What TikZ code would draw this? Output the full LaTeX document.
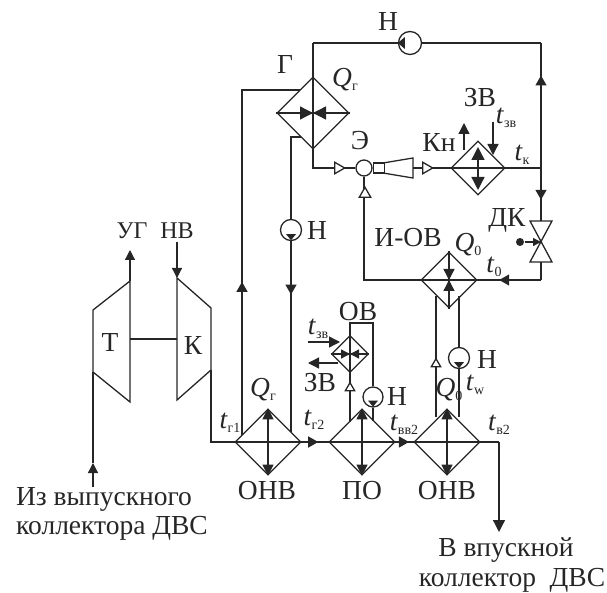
\documentclass[tikz,border=0pt]{standalone}
\usepackage{fontspec}
\setmainfont{Liberation Serif}
\usetikzlibrary{arrows.meta, shapes.geometric, decorations.markings, positioning}
\newcommand{\lbl}[2]{\textit{#1}\raisebox{-4pt}{\fontsize{14}{14}\selectfont #2}}
\tikzset{
	hx/.style={diamond, draw, aspect=1, inner sep=0pt, minimum size=#1},
	pump/.style={circle, draw, inner sep=0pt, minimum size=#1},
	txt/.style={inner sep=0pt, font=\fontsize{27.5}{31}\selectfont, align=center},
	arr/.style={-{Triangle[length=#1,width=#1]}},
	midfill/.style={decoration={markings, mark=at position #1 with {\arrow{Triangle[length=10pt,width=11pt]}}}, postaction={decorate}},
	openup/.style={isosceles triangle, draw, fill=white, isosceles triangle apex angle=60, shape border rotate=90, inner sep=0pt, minimum size=#1},
	openright/.style={isosceles triangle, draw, fill=white, isosceles triangle apex angle=60, inner sep=0pt, minimum size=#1}
}
\begin{document}
\begin{tikzpicture}[x=1pt, y=-1pt, line width=1.3pt, color=black!85]
	\useasboundingbox (0,0) rectangle (607,593);

	% exchangers
	\node [hx=72pt] (gen) at (313,113) {};
	\node [hx=54pt] (kn) at (478,168) {};
	\node [hx=56pt] (iov) at (449,280) {};
	\node [hx=37pt] (ov) at (350,354) {};
	\node [hx=66pt] (onva) at (268,442) {};
	\node [hx=66pt] (po) at (362,442) {};
	\node [hx=66pt] (onvb) at (447,442) {};

	% pumps
	\node [pump=23pt] (ntop) at (410,43) {};
	\node [pump=21pt] (nl) at (291,230) {};
	\node [pump=20pt] (nm) at (373,397) {};
	\node [pump=21pt] (nr) at (459,358) {};
	\fill (ntop.west) ++(7,-6) -- ++(0,12) -- ++(-7,-6) -- cycle;
	\foreach \p in {nl, nm, nr} {
		\fill (\p.south) ++(-5,-7) -- ++(10,0) -- ++(-5,6) -- cycle;
	}

	% ejector
	\node [pump=16pt] (ej) at (364,168) {};
	\node [draw, inner sep=0pt, minimum width=11pt, minimum height=10pt, right=0pt of ej] (thr) {};
	\coordinate (noza) at (383,163);
	\coordinate (nozb) at (413,158);
	\coordinate (nozc) at (413,178);
	\coordinate (nozd) at (383,173);
	\coordinate (noz) at (413,168);
	\draw (noza) -- (nozb) -- (nozc) -- (nozd);

	% valve
	\coordinate (dk) at (541,242);
	\coordinate (dktop) at (541,221);
	\coordinate (dkbot) at (541,262);
	\draw (dktop) ++(-11,0) -- ++(22,0) -- ++(-22,41) -- ++(22,0) -- cycle;
	\node [circle, fill, inner sep=0pt, minimum size=8pt] (dkdot) at (520,242) {};
	\draw [arr=8pt] (dkdot) -- (dk);

	% turbine and compressor
	\coordinate (ta) at (130,281);
	\coordinate (tb) at (93,310);
	\coordinate (tc) at (93,372);
	\coordinate (td) at (130,402);
	\coordinate (ka) at (177,278);
	\coordinate (kb) at (211,308);
	\coordinate (kc) at (211,370);
	\coordinate (kd) at (177,400);
	\coordinate (sha) at (130,339);
	\coordinate (shb) at (177,339);
	\draw (ta) -- (tb) -- (tc) -- (td) -- cycle;
	\draw (ka) -- (kb) -- (kc) -- (kd) -- cycle;
	\draw (sha) -- (shb);

	% free ends
	\coordinate (ug) at (130,250);
	\coordinate (nv) at (177,242);
	\coordinate (exh) at (93,487);
	\coordinate (exh2) at (93,463);
	\coordinate (tout) at (499,442);
	\coordinate (out) at (499,532);
	\coordinate (rtop) at (541,43);
	\coordinate (rk) at (541,168);
	\coordinate (rbot) at (541,280);
	\coordinate (gtop) at (313,43);
	\coordinate (gbot) at (313,168);
	\coordinate (ejb) at (364,280);

	\draw [arr=10pt] (ta) -- (ug);
	\draw [arr=10pt] (nv) -- (ka);
	\draw [arr=10pt] (exh) -- (exh2);
	\draw (exh2) -- (tc);
	\draw (kc) |- (onva.west);

	% bottom row
	\draw (onva.west) -- (onva.east);
	\draw [midfill=0.62] (onva.east) -- (po.west);
	\draw (po.west) -- (po.east);
	\draw [midfill=0.75] (po.east) -- (onvb.west);
	\draw (onvb.west) -- (tout);
	\draw [arr=12pt] (tout) -- (out);
	\foreach \h in {onva, po, onvb} {
		\draw [{Triangle[length=11pt,width=11pt]}-{Triangle[length=11pt,width=11pt]}] (\h.north) -- (\h.south);
	}

	% generator
	\draw (gtop) -- (gen.north);
	\draw (gen.north) -- (gen.south);
	\draw (gen.west) -- (gen.east);
	\draw [arr=13pt] (gen.west) -- (gen.center);
	\draw [arr=13pt] (gen.east) -- (gen.center);
	\draw (gen.south) -- (gbot) -- (ej.west);
	\draw [midfill=0.74] (rk) -- (rtop);
	\draw (gtop) -- (ntop.west);
	\draw (ntop.east) -- (rtop);

	% loop to the ejector
	\draw (rk) -- (kn.east);
	\draw (kn.west) -- (kn.east);
	\draw [{Triangle[length=13pt,width=13pt]}-{Triangle[length=13pt,width=13pt]}] (478,147) -- (478,190);
	\draw [midfill=0.6] (rk) -- (dktop);
	\draw (dkbot) -- (rbot);
	\draw [midfill=0.66] (rbot) -- (iov.east);
	\draw (iov.west) -- (iov.east);
	\draw (iov.north) -- (iov.south);
	\draw [arr=11pt] (iov.north) ++(0,10) -- (iov.center);
	\draw [arr=11pt] (iov.south) ++(0,-10) -- (iov.center);
	\draw (iov.west) -- (ejb) -- (ej.south);
	\draw (noz) -- (kn.west);

	% open arrows on the ejector lines
	\node [openright=10pt] (ea) at (338,168) {};
	\node [openright=10pt] (eb) at (426,168) {};
	\node [openup=10pt] (ec) at (365,194) {};

	% outer circuit lines
	\coordinate (gl) at (242,90);
	\coordinate (gle) at (300,90);
	\coordinate (glb) at (242,435);
	\coordinate (gr) at (291,137);
	\coordinate (gre) at (301,137);
	\coordinate (grb) at (291,432);
	\draw [midfill=0.38] (glb) -- (gl) -- (gle);
	\draw (gre) -- (gr) -- (nl.north);
	\draw [midfill=0.28] (nl.south) -- (grb);

	% air coolers
	\coordinate (ovl) at (350,422);
	\coordinate (ovtop) at (373,323);
	\coordinate (ovmid) at (350,323);
	\coordinate (ovr) at (373,421);
	\draw (ov.north) -- (ovmid) -- (ovtop) -- (nm.north);
	\draw (nm.south) -- (ovr);
	\draw (ov.south) -- (ovl);
	\node [openup=8pt] (ed) at (350,388) {};
	\draw (ov.west) -- (ov.east);
	\draw (ov.north) -- (ov.south);
	\draw [arr=9pt] (ov.west) -- (ov.center);
	\draw [arr=9pt] (ov.east) -- (ov.center);
	\coordinate (ova) at (308,342);
	\coordinate (ovb) at (340,342);
	\coordinate (ovc) at (338,363);
	\coordinate (ovd) at (308,363);
	\draw [arr=11pt] (ova) -- (ovb);
	\draw [arr=11pt] (ovc) -- (ovd);

	% links to the lower cooler
	\coordinate (ila) at (436,296);
	\coordinate (ilb) at (436,417);
	\coordinate (ira) at (459,296);
	\coordinate (irb) at (459,417);
	\draw (ilb) -- (ila);
	\draw (ira) -- (nr.north);
	\draw (nr.south) -- (irb);
	\node [openup=8pt] (ee) at (436,364) {};

	% condenser water
	\coordinate (zva) at (464,150);
	\coordinate (zvb) at (464,123);
	\coordinate (zvc) at (493,122);
	\coordinate (zvd) at (493,155);
	\draw [arr=11pt] (zva) -- (zvb);
	\draw [arr=11pt] (zvc) -- (zvd);

	% labels
	\node [txt] (lnt) at (388,22) {Н};
	\node [txt] (lg) at (285,65) {Г};
	\node [txt] (lqg) at (345,80) {\lbl{Q}{г}};
	\node [txt] (lzv) at (480,98) {ЗВ};
	\node [txt] (ltzv) at (506,118) {\lbl{t}{зв}};
	\node [txt] (lkn) at (439,142) {Кн};
	\node [txt] (le) at (360,141) {Э};
	\node [txt] (ltk) at (522,155) {\lbl{t}{к}};
	\node [txt] (ldk) at (507,220) {ДК};
	\node [txt] (liov) at (408,238) {И-ОВ};
	\node [txt] (lq0) at (468,245) {\lbl{Q}{0}};
	\node [txt] (lt0) at (494,267) {\lbl{t}{0}};
	\node [txt] (lnl) at (317,230) {Н};
	\node [txt] (lnr) at (487,359) {Н};
	\node [txt] (lnm) at (397,396) {Н};
	\node [txt] (lov) at (358,312) {ОВ};
	\node [txt] (ltzvb) at (318,329) {\lbl{t}{зв}};
	\node [txt] (lzvb) at (320,383) {ЗВ};
	\node [txt] (lqgb) at (263,390) {\lbl{Q}{г}};
	\node [txt] (ltg1) at (230,423) {\lbl{t}{г1}};
	\node [txt] (ltg2) at (314,420) {\lbl{t}{г2}};
	\node [txt] (ltvv) at (404,425) {\lbl{t}{вв2}};
	\node [txt] (lq0b) at (449,390) {\lbl{Q}{0}};
	\node [txt] (ltw) at (475,385) {\lbl{t}{w}};
	\node [txt] (ltv2) at (499,425) {\lbl{t}{в2}};
	\node [txt, font=\fontsize{24}{28}\selectfont] (lug) at (132,231) {УГ};
	\node [txt, font=\fontsize{24}{28}\selectfont] (lnv) at (177,231) {НВ};
	\node [txt] (lt) at (110,342) {Т};
	\node [txt] (lk) at (193,345) {К};
	\node [txt] (lonva) at (267,491) {ОНВ};
	\node [txt] (lpo) at (362,491) {ПО};
	\node [txt] (lonvb) at (447,491) {ОНВ};
	\node [txt] (lin) at (104,499) {Из выпускного};
	\node [txt] (linb) at (112,528) {коллектора ДВС};
	\node [txt] (lout) at (506,550) {В впускной};
	\node [txt] (loutb) at (512,580) {коллектор\ \ ДВС};
\end{tikzpicture}
\end{document}
